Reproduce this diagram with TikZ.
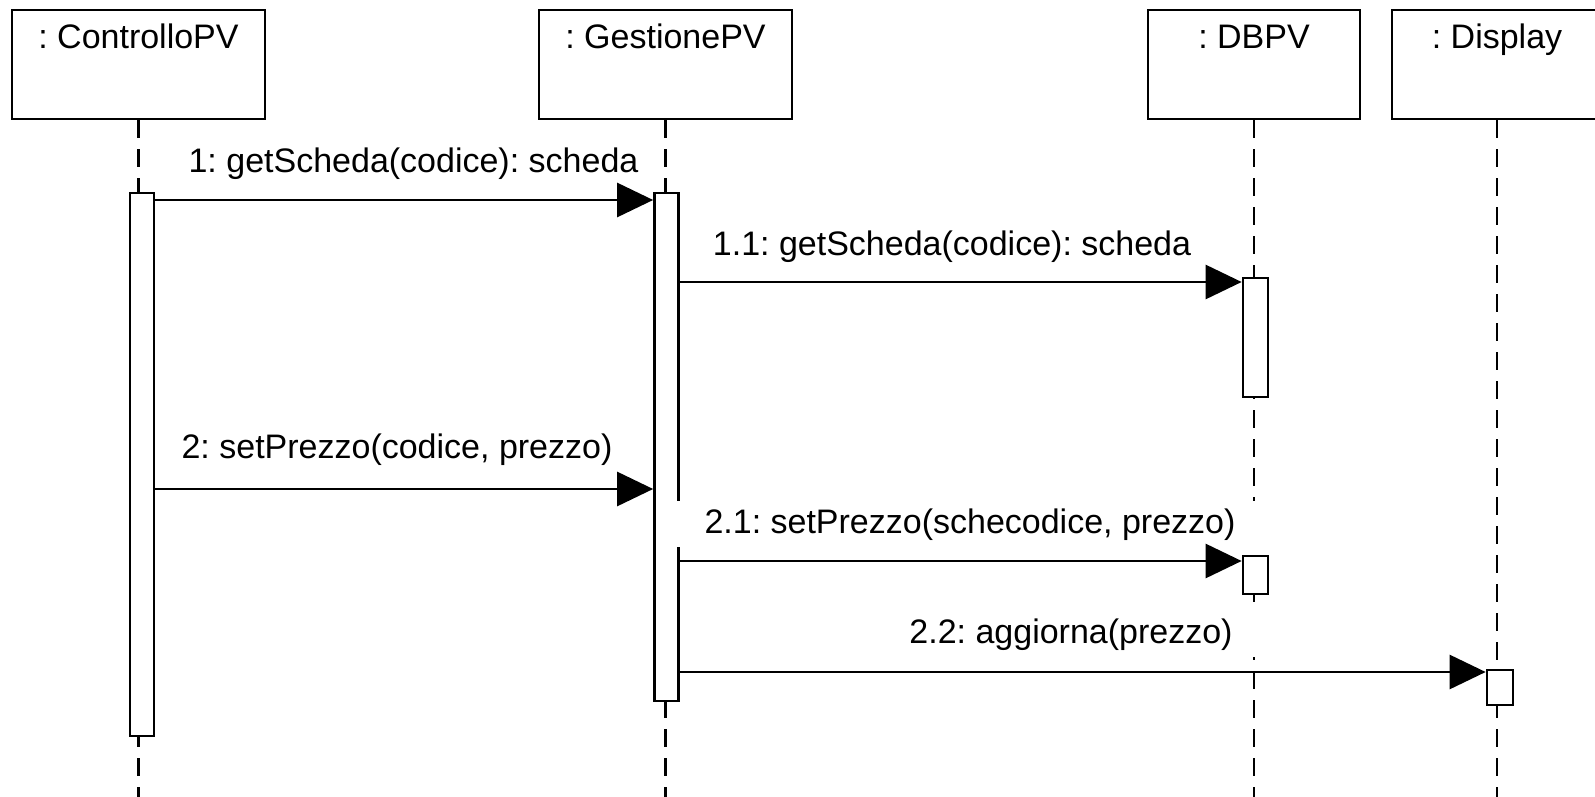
\documentclass[tikz,border=0pt]{standalone}
\usepackage{fontspec}
\setmainfont{Liberation Sans}
\usetikzlibrary{arrows.meta}
\begin{document}
\frenchspacing
\begin{tikzpicture}[x=1pt,y=-1pt,
  every node/.style={font=\fontsize{34}{40}\selectfont},
  objbox/.style={draw, line width=2.7pt, minimum height=109pt, inner sep=0pt},
  title/.style={inner sep=0pt, text height=25pt, text depth=7pt},
  life/.style={line width=2.7pt, dash pattern=on 18pt off 11pt},
  act/.style={draw, fill=white, line width=2.7pt, minimum width=24pt, inner sep=0pt},
  msg/.style={line width=2.7pt, -{Triangle[length=36pt,width=34pt]}},
  lbl/.style={inner sep=0pt, text height=25pt, text depth=7pt},
  lblw/.style={lbl, fill=white, inner xsep=31pt, inner ysep=7pt}
]
\fill[white] (0,0) rectangle (1595,797);
\useasboundingbox (0,0) rectangle (1595,797);
% objects
\node[objbox, minimum width=253pt] (cp) at (138.5,64.5) {};
\node[objbox, minimum width=253pt] (gp) at (665.5,64.5) {};
\node[objbox, minimum width=212pt] (db) at (1254,64.5) {};
\node[objbox, minimum width=210pt] (dp) at (1497,64.5) {};
\node[title] (cpt) at (138.5,40) {: ControlloPV};
\node[title] (gpt) at (665.5,40) {: GestionePV};
\node[title] (dbt) at (1254,40) {: DBPV};
\node[title] (dpt) at (1497,40) {: Display};
% lifelines
\coordinate (bot) at (0,797);
\draw[life] (cp.south) -- (cp.south |- bot);
\draw[life] (gp.south) -- (gp.south |- bot);
\draw[life] (db.south) -- (db.south |- bot);
\draw[life] (dp.south) -- (dp.south |- bot);
% activations
\node[act, minimum height=543pt] (cpA) at (142,464.5) {};
\node[act, minimum height=508pt] (gA) at (666.5,447) {};
\node[act, minimum height=119pt, minimum width=25pt] (dA1) at (1255.5,337.5) {};
\node[act, minimum height=38pt, minimum width=25pt] (dA2) at (1255.5,575) {};
\node[act, minimum height=35pt, minimum width=26pt] (xA) at (1500,687.5) {};
% labels
\node[lbl] (l1) at (413.5,163) {1: getScheda(codice): scheda};
\node[lbl] (l11) at (952,246) {1.1: getScheda(codice): scheda};
\node[lbl] (l2) at (397,449) {2: setPrezzo(codice, prezzo)};
\node[lblw] (l21) at (970,524) {2.1: setPrezzo(schecodice, prezzo)};
\node[lblw] (l22) at (1071,634) {2.2: aggiorna(prezzo)};
% messages
\coordinate (m1) at (0,200);
\coordinate (m11) at (0,282);
\coordinate (m2) at (0,489);
\coordinate (m21) at (0,561);
\coordinate (m22) at (0,672);
\draw[msg] (cpA.east |- m1) -- (gA.west |- m1);
\draw[msg] (gA.east |- m11) -- (dA1.west |- m11);
\draw[msg] (cpA.east |- m2) -- (gA.west |- m2);
\draw[msg] (gA.east |- m21) -- (dA2.west |- m21);
\draw[msg] (gA.east |- m22) -- (xA.west |- m22);
\end{tikzpicture}
\end{document}
